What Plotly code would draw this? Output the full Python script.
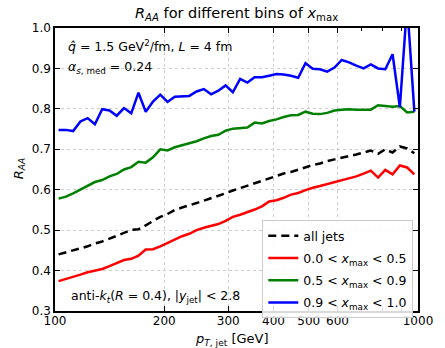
import plotly.graph_objects as go

# jet transverse momentum bin centres [GeV]
pt_jet = [102.3, 107.2, 112.2, 117.5, 123.0, 128.8, 134.9, 141.3, 147.9, 154.9,
          162.2, 169.8, 177.8, 186.2, 195.0, 204.2, 213.8, 223.9, 234.4, 245.5,
          257.0, 269.2, 281.8, 295.1, 309.0, 323.6, 338.8, 354.8, 371.5, 389.1,
          407.4, 426.6, 446.7, 467.7, 489.8, 512.9, 537.0, 562.3, 588.8, 616.6,
          645.7, 676.1, 708.0, 741.3, 776.3, 812.8, 851.1, 891.3, 933.3, 977.2]

raa_all = [0.440, 0.445, 0.450, 0.455, 0.460, 0.467, 0.472, 0.479, 0.485, 0.493,
           0.501, 0.502, 0.512, 0.523, 0.533, 0.540, 0.550, 0.556, 0.561, 0.567,
           0.573, 0.579, 0.584, 0.591, 0.598, 0.604, 0.610, 0.616, 0.622, 0.629,
           0.634, 0.640, 0.644, 0.650, 0.656, 0.661, 0.665, 0.671, 0.675, 0.679,
           0.682, 0.687, 0.692, 0.697, 0.689, 0.700, 0.692, 0.707, 0.702, 0.690]

raa_low = [0.374, 0.379, 0.384, 0.390, 0.396, 0.400, 0.404, 0.411, 0.418, 0.426,
           0.429, 0.437, 0.452, 0.453, 0.460, 0.469, 0.478, 0.485, 0.491, 0.500,
           0.506, 0.510, 0.515, 0.523, 0.533, 0.538, 0.544, 0.551, 0.559, 0.571,
           0.574, 0.580, 0.588, 0.592, 0.599, 0.605, 0.609, 0.614, 0.619, 0.624,
           0.628, 0.633, 0.640, 0.647, 0.630, 0.649, 0.638, 0.660, 0.655, 0.638]

raa_mid = [0.578, 0.583, 0.591, 0.600, 0.610, 0.619, 0.624, 0.633, 0.639, 0.650,
           0.656, 0.669, 0.667, 0.680, 0.700, 0.697, 0.705, 0.710, 0.715, 0.720,
           0.727, 0.733, 0.736, 0.746, 0.751, 0.753, 0.754, 0.766, 0.764, 0.770,
           0.774, 0.780, 0.784, 0.785, 0.793, 0.788, 0.787, 0.790, 0.796, 0.798,
           0.799, 0.798, 0.798, 0.798, 0.809, 0.807, 0.805, 0.807, 0.791, 0.793]

raa_high = [0.748, 0.748, 0.745, 0.769, 0.777, 0.762, 0.799, 0.796, 0.783, 0.802,
            0.789, 0.840, 0.793, 0.818, 0.835, 0.817, 0.830, 0.831, 0.832, 0.843,
            0.849, 0.836, 0.845, 0.858, 0.841, 0.874, 0.865, 0.878, 0.878, 0.882,
            0.886, 0.885, 0.882, 0.877, 0.913, 0.899, 0.898, 0.892, 0.902, 0.921,
            0.915, 0.907, 0.900, 0.910, 0.900, 0.898, 0.935, 0.804, 1.060, 0.793]

x_tick_vals = [100, 200, 300, 400, 500, 600, 1000]
x_tick_text = ["100", "200", "300", "400", "500", "600", "1000"]
x_minor_vals = [700, 800, 900]
y_tick_vals = [0.3, 0.4, 0.5, 0.6, 0.7, 0.8, 0.9, 1.0]

FONT = "DejaVu Sans"

series = [
    ("all jets", raa_all, "black", "8px,5px"),
    ("0.0 &lt; <i>x</i><sub>max</sub> &lt; 0.5", raa_low, "#ff0000", "solid"),
    ("0.5 &lt; <i>x</i><sub>max</sub> &lt; 0.9", raa_mid, "#008000", "solid"),
    ("0.9 &lt; <i>x</i><sub>max</sub> &lt; 1.0", raa_high, "#0000ff", "solid"),
]

fig = go.Figure()
for i, (name, vals, color, dash) in enumerate(series):
    fig.add_trace(go.Scatter(
        x=pt_jet, y=vals, mode="lines", name=name, legendgroup=f"g{i}",
        line=dict(color=color, width=2.5, dash=dash),
    ))

# plot area spans x in [55, 428] px and y in [27.5, 311] px
W, H = 445, 348
L, R, T, B = 55, 17, 27.5, 37
pw, ph = W - L - R, H - T - B


def px(xp):
    return (xp - L) / pw


def py(yp):
    return (H - B - yp) / ph


axis_common = dict(
    showline=True, linecolor="black", linewidth=1.5, mirror="ticks",
    ticks="inside", ticklen=5, tickwidth=1, tickcolor="black",
    showgrid=True, gridcolor="#cfcfcf", griddash="dot", gridwidth=1,
    zeroline=False, tickfont=dict(family=FONT, size=12, color="black"),
)

fig.update_xaxes(
    type="log", range=[2, 3], tickvals=x_tick_vals, ticktext=x_tick_text,
    minor=dict(tickvals=x_minor_vals, ticks="inside", ticklen=3,
               tickcolor="black", showgrid=False),
    ticklabelstandoff=-2,
    **axis_common,
)
fig.update_yaxes(
    range=[0.3, 1.0], tickvals=y_tick_vals,
    ticktext=[f"{v:.1f}" for v in y_tick_vals],
    **axis_common,
)

annotations = [
    dict(x=px(241), y=py(13), text="<i>R</i><sub><i>AA</i></sub> for different bins of <i>x</i><sub>max</sub>",
         font=dict(size=14.5)),
    dict(x=px(18), y=py(168), text="<i>R</i><sub><i>AA</i></sub>", textangle=-90,
         font=dict(size=13)),
    dict(x=px(237), y=py(340), text="<i>p</i><sub><i>T</i>, jet</sub> [GeV]",
         font=dict(size=13)),
    dict(x=px(66), y=py(46), xanchor="left",
         text="<i>q\u0302</i> = 1.5 GeV<sup>2</sup>/fm, <i>L</i> = 4 fm",
         font=dict(size=12.5)),
    dict(x=px(66), y=py(67), xanchor="left",
         text="<i>\u03b1</i><sub><i>s</i>, med</sub> = 0.24",
         font=dict(size=12.5)),
    dict(x=px(69), y=py(296), xanchor="left",
         text="anti-<i>k</i><sub><i>t</i></sub>(<i>R</i> = 0.4), |<i>y</i><sub>jet</sub>| &lt; 2.8",
         font=dict(size=12.5)),
]
for a in annotations:
    a.setdefault("xanchor", "center")
    a.update(xref="paper", yref="paper", showarrow=False, yanchor="middle")
    a["font"] = dict(family=FONT, color="black", **a["font"])
fig.update_layout(annotations=annotations)

fig.update_layout(
    width=W, height=H,
    margin=dict(l=L, r=R, t=T, b=B, pad=0),
    paper_bgcolor="white", plot_bgcolor="white",
    font=dict(family=FONT, color="black"),
    showlegend=True,
    legend=dict(
        x=px(268), y=py(220), xanchor="left", yanchor="top",
        bgcolor="rgba(255,255,255,0.85)", bordercolor="#cccccc", borderwidth=1,
        font=dict(family=FONT, size=12.5, color="black"),
        traceorder="grouped", tracegroupgap=3, itemwidth=30,
    ),
)

fig.write_html("out.html")
